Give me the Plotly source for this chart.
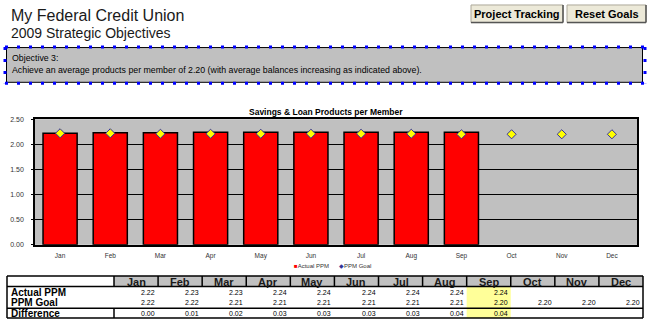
import plotly.graph_objects as go

W, H = 653, 331

months = ["Jan", "Feb", "Mar", "Apr", "May", "Jun", "Jul", "Aug", "Sep", "Oct", "Nov", "Dec"]
actual_ppm = [2.22, 2.23, 2.23, 2.24, 2.24, 2.24, 2.24, 2.24, 2.24, None, None, None]
ppm_goal = [2.22, 2.22, 2.21, 2.21, 2.21, 2.21, 2.21, 2.21, 2.20, 2.20, 2.20, 2.20]
difference = [0.00, 0.01, 0.02, 0.03, 0.03, 0.03, 0.03, 0.04, 0.04, None, None, None]
row_labels = ["Actual PPM", "PPM Goal", "Difference"]
current_month = "Sep"

title_main = "My Federal Credit Union"
title_sub = "2009 Strategic Objectives"
objective_lines = ["Objective 3:",
                   "Achieve an average products per member of 2.20 (with average balances increasing as indicated above)."]
chart_title = "Savings & Loan Products per Member"
buttons = ["Project Tracking", "Reset Goals"]

FONT = "Arial, Liberation Sans, sans-serif"


def px(x):
    return x / W


def py(y):
    return 1 - y / H


fig = go.Figure()
fig.add_trace(go.Bar(
    x=months, y=actual_ppm, name="Actual PPM", width=0.68,
    marker=dict(color="#FF0000", line=dict(color="black", width=1.5)),
))
fig.add_trace(go.Scatter(
    x=months, y=ppm_goal, name="PPM Goal", mode="markers",
    marker=dict(symbol="diamond", size=7, color="#FFFF00", line=dict(color="#333399", width=1)),
))

shapes = []
ann = []

# Header titles
ann.append(dict(text=title_main, x=px(9), y=py(12), xref="paper", yref="paper", xanchor="left",
                yanchor="middle", showarrow=False, font=dict(family=FONT, size=16, color="#1a1a1a")))
ann.append(dict(text=title_sub, x=px(9), y=py(29.5), xref="paper", yref="paper", xanchor="left",
                yanchor="middle", showarrow=False, font=dict(family=FONT, size=14, color="#1a1a1a")))

# Buttons
btn_boxes = [(471, 563), (567, 646)]
for (bx0, bx1), label in zip(btn_boxes, buttons):
    shapes.append(dict(type="rect", xref="paper", yref="paper", x0=px(bx0), x1=px(bx1), y0=py(19), y1=py(1),
                       fillcolor="#ECE9D8", line=dict(color="#ACA899", width=1)))
    shapes.append(dict(type="line", xref="paper", yref="paper", x0=px(bx0), x1=px(bx1), y0=py(19), y1=py(19),
                       line=dict(color="#555555", width=1.5)))
    shapes.append(dict(type="line", xref="paper", yref="paper", x0=px(bx1), x1=px(bx1), y0=py(19), y1=py(1),
                       line=dict(color="#555555", width=1.5)))
    ann.append(dict(text="<b>" + label + "</b>", x=px((bx0 + bx1) / 2), y=py(10), xref="paper", yref="paper",
                    xanchor="center", yanchor="middle", showarrow=False,
                    font=dict(family=FONT, size=11, color="black")))

# Objective box
shapes.append(dict(type="rect", xref="paper", yref="paper", x0=px(6.5), x1=px(642.5), y0=py(80), y1=py(44.5),
                   fillcolor="#C0C0C0", line=dict(color="black", width=1)))
for (x0, y0, x1, y1) in [(5, 44, 645, 44), (5, 44, 5, 81), (645, 44, 645, 81), (5, 81, 645, 81)]:
    shapes.append(dict(type="line", xref="paper", yref="paper", x0=px(x0), x1=px(x1), y0=py(y0), y1=py(y1),
                       line=dict(color="#0000FF", width=3, dash="3px,9px")))
for i, line in enumerate(objective_lines):
    ann.append(dict(text=line, x=px(10), y=py(55.5 + 11.5 * i), xref="paper", yref="paper", xanchor="left",
                    yanchor="middle", showarrow=False, font=dict(family=FONT, size=8.8, color="black")))

# Chart title
ann.append(dict(text="<b>" + chart_title + "</b>", x=px(325.5), y=py(110), xref="paper", yref="paper",
                xanchor="center", yanchor="middle", showarrow=False, font=dict(family=FONT, size=8.5, color="black")))

# Legend (manual)
ann.append(dict(text="<span style='color:#FF0000'>■</span>Actual PPM", x=px(292), y=py(268), xref="paper",
                yref="paper", xanchor="left", yanchor="middle", showarrow=False,
                font=dict(family=FONT, size=6, color="#333333")))
ann.append(dict(text="<span style='color:#333399'>◆</span>PPM Goal", x=px(337), y=py(268), xref="paper",
                yref="paper", xanchor="left", yanchor="middle", showarrow=False,
                font=dict(family=FONT, size=6, color="#333333")))

# Table
tx0, tlab, tx1 = 7, 114, 643
ty_top, ty_head, ty_diff, ty_bot = 278, 288.5, 310.7, 320.7
colw = (tx1 - tlab) / len(months)
shapes.append(dict(type="rect", xref="paper", yref="paper", x0=px(tlab), x1=px(tx1), y0=py(ty_head),
                   y1=py(ty_top), fillcolor="#C0C0C0", line=dict(width=0)))
ci = months.index(current_month)
shapes.append(dict(type="rect", xref="paper", yref="paper", x0=px(tlab + ci * colw), x1=px(tlab + (ci + 1) * colw),
                   y0=py(ty_bot), y1=py(ty_head), fillcolor="#FFFF99", line=dict(width=0)))
tlines = [
    (tx0, ty_top, tx1, ty_top), (tx0, ty_head, tx1, ty_head), (tx0, ty_diff, tx1, ty_diff),
    (tx0, ty_bot, tx1, ty_bot), (tx0, ty_top, tx0, ty_bot), (tx1, ty_top, tx1, ty_bot),
    (tlab, ty_top, tlab, ty_head), (tlab, ty_diff, tlab, ty_bot),
]
for k in range(1, len(months)):
    xk = tlab + k * colw
    tlines.append((xk, ty_top, xk, ty_head))
for (x0, y0, x1, y1) in tlines:
    shapes.append(dict(type="line", xref="paper", yref="paper", x0=px(x0), x1=px(x1), y0=py(y0), y1=py(y1),
                       line=dict(color="black", width=1.5)))
for k, m in enumerate(months):
    ann.append(dict(text="<b>" + m + "</b>", x=px(tlab + (k + 0.5) * colw), y=py(283.5), xref="paper",
                    yref="paper", xanchor="center", yanchor="middle", showarrow=False, borderpad=0,
                    font=dict(family=FONT, size=11, color="#1a1a1a")))
row_ys = [294.5, 305.3, 316]
for label, ry, vals in zip(row_labels, row_ys, [actual_ppm, ppm_goal, difference]):
    ann.append(dict(text="<b>" + label + "</b>", x=px(10), y=py(ry), xref="paper", yref="paper",
                    xanchor="left", yanchor="middle", showarrow=False, borderpad=0,
                    font=dict(family=FONT, size=10, color="black")))
    for k, v in enumerate(vals):
        if v is None:
            continue
        ann.append(dict(text=f"{v:.2f}", x=px(tlab + (k + 1) * colw - 2), y=py(ry), xref="paper", yref="paper",
                        xanchor="right", yanchor="middle", showarrow=False, borderpad=0,
                        font=dict(family=FONT, size=7, color="black")))

fig.update_layout(
    width=W, height=H, margin=dict(l=0, r=0, t=0, b=0, pad=0),
    paper_bgcolor="white", plot_bgcolor="#C0C0C0",
    showlegend=False, bargap=0.32,
    shapes=shapes, annotations=ann,
    font=dict(family=FONT),
    xaxis=dict(domain=[px(35), px(637)], type="category", range=[-0.5, 11.5], showline=True, mirror=True,
               linecolor="black", linewidth=1.5, ticks="", showgrid=False,
               tickfont=dict(family=FONT, size=6.5, color="#333333"), ticklabelstandoff=4),
    yaxis=dict(domain=[py(246), py(117.7)], range=[0, 2.5], dtick=0.5, tickformat=".2f", showline=True,
               mirror=True, linecolor="black", linewidth=1.5, gridcolor="black", gridwidth=1, zeroline=False,
               ticks="outside", ticklen=2, tickcolor="black",
               tickfont=dict(family=FONT, size=7, color="#333333"), ticklabelstandoff=6),
)

fig.write_html("out.html")
